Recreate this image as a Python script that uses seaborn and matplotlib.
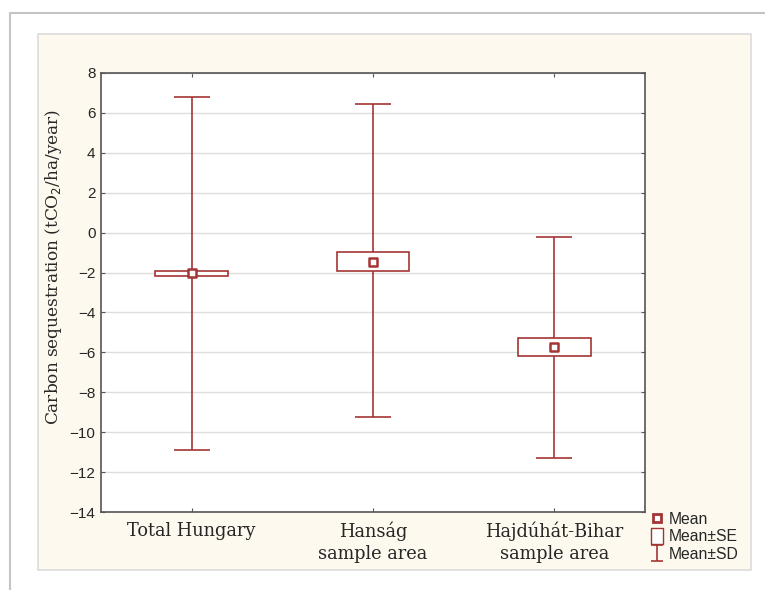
import matplotlib
matplotlib.use("Agg")
from matplotlib import pyplot as plt
from matplotlib.patches import Rectangle
from matplotlib.lines import Line2D
from matplotlib.path import Path
import numpy as np
import pandas as pd
import seaborn as sns

# valori
groups = ["Total Hungary", "Hanság\nsample area", "Hajdúhát-Bihar\nsample area"]
mean = [-2.04, -1.45, -5.72]
se_low = [-2.16, -1.92, -6.18]
se_high = [-1.93, -0.96, -5.30]
sd_low = [-10.88, -9.25, -11.30]
sd_high = [6.78, 6.43, -0.20]
yticks = list(range(-14, 9, 2))

df = pd.DataFrame({"group": groups, "mean": mean, "se_low": se_low, "se_high": se_high,
                   "sd_low": sd_low, "sd_high": sd_high})
df["pos"] = range(len(df))

red = "#a33535"
cream = "#fdf9ee"

sns.set_style("white")
fig = plt.figure(figsize=(7.65, 5.9), dpi=100)
W, H = 765, 590

# cornice esterna e pannello crema
fig.add_artist(Line2D([10 / W, 1], [1 - 13 / H, 1 - 13 / H], color="#c4c4c4", lw=1.5))
fig.add_artist(Line2D([10 / W, 10 / W], [0, 1 - 13 / H], color="#c4c4c4", lw=1.5))
fig.add_artist(Rectangle((38 / W, 1 - 570 / H), (751 - 38) / W, (570 - 34) / H,
                         facecolor=cream, edgecolor="#dcdcdc", lw=1.2, zorder=0))

ax = fig.add_axes([101 / W, 1 - 512 / H, (645 - 101) / W, (512 - 73) / H])
ax.set_facecolor("white")

# whisker (media ± SD) e box (media ± SE)
for _, r in df.iterrows():
    ax.vlines(r["pos"], r["sd_low"], r["sd_high"], color=red, lw=1.2, zorder=2)
    ax.hlines([r["sd_low"], r["sd_high"]], r["pos"] - 0.1, r["pos"] + 0.1, color=red, lw=1.2, zorder=2)
    ax.add_patch(Rectangle((r["pos"] - 0.2, r["se_low"]), 0.4, r["se_high"] - r["se_low"],
                           facecolor="white", edgecolor=red, lw=1.2, zorder=3))

sns.scatterplot(data=df, x="pos", y="mean", marker="s", s=28, facecolor="white",
                edgecolor=red, linewidth=1.8, zorder=4, ax=ax, legend=False)

ax.set_xlim(-0.5, 2.5)
ax.set_ylim(-14, 8)
ax.set_yticks(yticks)
ax.set_yticklabels([str(t).replace("-", "\u2212") for t in yticks], fontsize=11,
                   family="Liberation Sans")
ax.set_xticks(df["pos"])
ax.set_xticklabels(groups, fontsize=12.8, family="DejaVu Serif", linespacing=1.25)
ax.grid(axis="y", color="#dedede", lw=1)
ax.set_axisbelow(True)
for s in ax.spines.values():
    s.set_color("#555555")
    s.set_linewidth(1.2)
ax.tick_params(axis="x", direction="in", top=True, bottom=True, length=3, color="#555555", pad=7)
ax.tick_params(axis="y", direction="in", left=True, right=True, length=3, color="#555555", pad=4)
ax.set_xlabel("")
ax.set_ylabel("Carbon sequestration (tCO$_2$/ha/year)", fontsize=12.2, family="DejaVu Serif")
ax.yaxis.set_label_coords(-0.068, 0.558)

# legenda
rpath = Path([(-0.36, -0.5), (0.36, -0.5), (0.36, 0.5), (-0.36, 0.5), (-0.36, -0.5)],
             [Path.MOVETO, Path.LINETO, Path.LINETO, Path.LINETO, Path.CLOSEPOLY])
sd_handle = ax.errorbar([np.nan], [np.nan], yerr=[1], fmt="none", ecolor=red,
                        elinewidth=1.2, capsize=4, capthick=1.2)
handles = [
    Line2D([], [], ls="", marker="s", markersize=5.5, markerfacecolor="white", markeredgecolor=red, mew=2),
    Line2D([], [], ls="", marker=rpath, markersize=12, markerfacecolor="white", markeredgecolor=red, mew=1),
    sd_handle,
]
fig.legend(handles, ["Mean", "Mean±SE", "Mean±SD"], loc="upper left",
           bbox_to_anchor=(642 / W, 1 - 504 / H), frameon=False, handlelength=0.9,
           handletextpad=0.3, labelspacing=0.15, borderpad=0,
           prop={"family": "Liberation Sans", "size": 11.3})

fig.savefig("out.png", dpi=100)
